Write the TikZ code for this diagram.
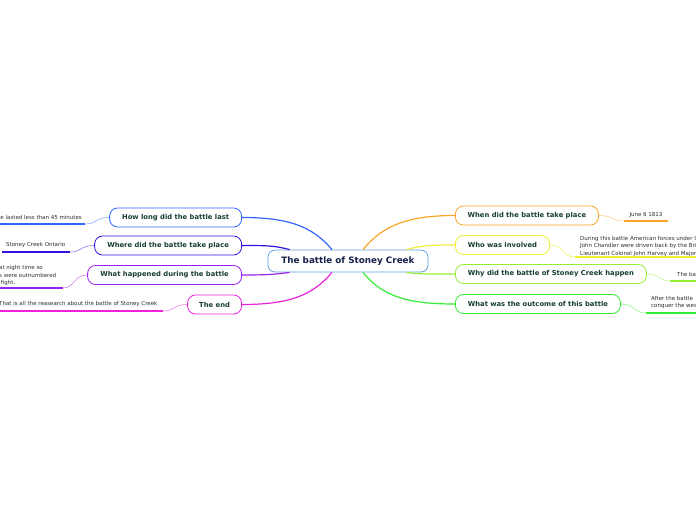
\documentclass[tikz,border=0pt]{standalone}
\usepackage{fontspec}
\setmainfont{DejaVu Sans}

\definecolor{rootblue}{RGB}{96,160,220}
\definecolor{roottext}{RGB}{22,32,72}
\definecolor{topictext}{RGB}{22,62,52}
\definecolor{leafgray}{RGB}{45,45,45}
\definecolor{cHow}{RGB}{51,102,255}
\definecolor{cWhere}{RGB}{51,17,221}
\definecolor{cHappen}{RGB}{153,34,238}
\definecolor{cEnd}{RGB}{238,34,221}
\definecolor{cWhen}{RGB}{250,165,40}
\definecolor{cWho}{RGB}{238,238,51}
\definecolor{cWhy}{RGB}{150,238,51}
\definecolor{cOut}{RGB}{51,238,51}

\begin{document}
\begin{tikzpicture}[x=1pt, y=-1pt,
  % Node styles
  rootbox/.style={rectangle, rounded corners=7pt, draw=rootblue, fill=white,
    minimum width=160pt, minimum height=22pt, inner sep=0pt, line width=0.8pt,
    font=\fontsize{8.8}{10}\selectfont\bfseries, text=roottext},
  topicbox/.style={rectangle, rounded corners=8pt, fill=white, line width=0.8pt,
    minimum height=19pt, inner sep=0pt, text=topictext,
    font=\fontsize{6.8}{8}\selectfont\bfseries},
  leaftext/.style={inner sep=0pt, align=left, text=leafgray,
    font=\fontsize{5.5}{7.4}\selectfont},
  branch/.style={line width=1.2pt},
  twig/.style={line width=0.6pt},
  uline/.style={line width=1.8pt},
]

% === Canvas ===
\useasboundingbox (0,0) rectangle (696,520);
\clip (0,0) rectangle (696,520);

% === Column positions ===
\def\colL{242}
\def\colR{455}

% === Central topic ===
\node[rootbox] (root) at (348,261) {The battle of Stoney Creek};

% === Left topics ===
\node[topicbox, draw=cHow, minimum width=132pt, anchor=east] (how) at (\colL,217.5) {How long did the battle last};
\node[topicbox, draw=cWhere, minimum width=147pt, anchor=east] (where) at (\colL,245.5) {Where did the battle take place};
\node[topicbox, draw=cHappen, minimum width=154pt, anchor=east] (happen) at (\colL,275) {What happened during the battle};
\node[topicbox, draw=cEnd, minimum width=54pt, anchor=east] (theend) at (\colL,304.5) {The end};

% === Right topics ===
\node[topicbox, draw=cWhen, minimum width=143pt, anchor=west] (when) at (\colR,215.5) {When did the battle take place};
\node[topicbox, draw=cWho, minimum width=94pt, anchor=west] (who) at (\colR,245) {Who was involved};
\node[topicbox, draw=cWhy, minimum width=191pt, anchor=west] (why) at (\colR,274) {Why did the battle of Stoney Creek happen};
\node[topicbox, draw=cOut, minimum width=165pt, anchor=west] (outcome) at (\colR,304) {What was the outcome of this battle};

% === Branches: root -> topics ===
\draw[branch, cHow] ([xshift=-16pt]root.north) .. controls +(-20,-24) and +(45,0) .. (how.east);
\draw[branch, cWhere] ([xshift=22pt]root.north west) .. controls +(-15,-4) and +(25,0) .. (where.east);
\draw[branch, cHappen] ([xshift=22pt]root.south west) .. controls +(-15,2) and +(25,0) .. (happen.east);
\draw[branch, cEnd] ([xshift=-16pt]root.south) .. controls +(-20,24) and +(45,0) .. (theend.east);
\draw[branch, cWhen] ([xshift=15pt]root.north) .. controls +(20,-25) and +(-45,0) .. (when.west);
\draw[branch, cWho] ([xshift=-22pt]root.north east) .. controls +(15,-4) and +(-25,0) .. (who.west);
\draw[branch, cWhy] ([xshift=-22pt]root.south east) .. controls +(15,2) and +(-25,0) .. (why.west);
\draw[branch, cOut] ([xshift=15pt]root.south) .. controls +(20,25) and +(-45,0) .. (outcome.west);

% === Left leaves ===
\coordinate (howU) at (85,224);   \coordinate (howS) at (-5,224);
\coordinate (whereU) at (70,252); \coordinate (whereS) at (2,252);
\coordinate (happenU) at (63,288); \coordinate (happenS) at (-5,288);
\coordinate (endU) at (163,311);  \coordinate (endS) at (-5,311);

\node[leaftext, anchor=east] (howtxt) at (82,217) {The battle lasted less than 45 minutes};
\node[leaftext, anchor=west] (wheretxt) at (6,245) {Stoney Creek Ontario};
\node[leaftext, anchor=north west] (happentxt) at (-1,265.5) {at night time so\\s were outnumbered\\ \ fight.};
\node[leaftext, anchor=west] (endtxt) at (-1,304) {That is all the reasearch about the battle of Stoney Creek};

\draw[twig, cHow!55] (how.west) .. controls +(-14,0) and +(12,0) .. (howU);
\draw[uline, cHow] (howU) -- (howS);
\draw[twig, cWhere!55] (where.west) .. controls +(-14,0) and +(12,0) .. (whereU);
\draw[uline, cWhere] (whereU) -- (whereS);
\draw[twig, cHappen!55] (happen.west) .. controls +(-14,0) and +(12,0) .. (happenU);
\draw[uline, cHappen] (happenU) -- (happenS);
\draw[twig, cEnd!55] (theend.west) .. controls +(-14,0) and +(12,0) .. (endU);
\draw[uline, cEnd] (endU) -- (endS);

% === Right leaves ===
\coordinate (whenU) at (624,221); \coordinate (whenS) at (668,221);
\coordinate (whoU) at (575,257);  \coordinate (whoS) at (700,257);
\coordinate (whyU) at (670,281);  \coordinate (whyS) at (700,281);
\coordinate (outU) at (646,313);  \coordinate (outS) at (700,313);

\node[leaftext] (whentxt) at (646,215.5) {June 6 1813};
\node[leaftext, anchor=north west] (whotxt) at (580,236) {During this battle American forces under General\\John Chandler were driven back by the British under\\Lieutenant Colonel John Harvey and Major};
\node[leaftext, anchor=west] (whytxt) at (677,274) {The battle};
\node[leaftext, anchor=north west] (outtxt) at (651,296) {After the battle\\conquer the west};

\draw[twig, cWhen!55] (when.east) .. controls +(14,0) and +(-12,0) .. (whenU);
\draw[uline, cWhen] (whenU) -- (whenS);
\draw[twig, cWho!70] (who.east) .. controls +(14,0) and +(-12,0) .. (whoU);
\draw[uline, cWho] (whoU) -- (whoS);
\draw[twig, cWhy!55] (why.east) .. controls +(14,0) and +(-12,0) .. (whyU);
\draw[uline, cWhy] (whyU) -- (whyS);
\draw[twig, cOut!55] (outcome.east) .. controls +(14,0) and +(-12,0) .. (outU);
\draw[uline, cOut] (outU) -- (outS);

\end{tikzpicture}
\end{document}
